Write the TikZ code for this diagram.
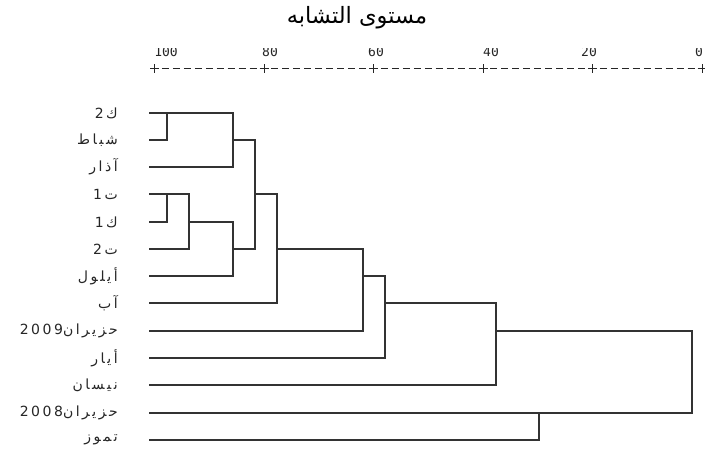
\documentclass[tikz,border=0pt]{standalone}
\usepackage{fontspec}
\setmainfont{DejaVu Sans}
\newfontfamily\arabicfont[Script=Arabic]{DejaVu Sans}
\newfontfamily\labelfont[Script=Arabic,LetterSpace=18]{DejaVu Sans}
\newfontfamily\axisfont{DejaVu Sans Mono}
\TeXXeTstate=1

\tikzset{
  tree/.style={draw=black!80, line width=1.1pt, line cap=rect},
  axisline/.style={draw=black!85, line width=1pt},
  leaflabel/.style={anchor=east, inner sep=0pt, text=black!85,
    font=\labelfont\fontsize{14}{16}\selectfont},
  ticklabel/.style={anchor=base, inner sep=0pt, text=black!85,
    font=\axisfont\fontsize{13}{15}\selectfont},
  titlelabel/.style={inner sep=0pt, font=\arabicfont\fontsize{22.5}{26}\selectfont}
}

\begin{document}
\begin{tikzpicture}[x=1pt,y=-1pt]
\useasboundingbox (0,0) rectangle (705,453);
\fill[white] (0,0) rectangle (705,453);

% title
\node[titlelabel] (title) at (357,18) {\beginR مستوى التشابه\endR};

% scale numbers (cut off at the top)
\begin{scope}
  \clip (140,48) rectangle (705,60);
  \node[ticklabel] (t100) at (166,56) {100};
  \node[ticklabel] (t80)  at (270,56) {80};
  \node[ticklabel] (t60)  at (376,56) {60};
  \node[ticklabel] (t40)  at (491,56) {40};
  \node[ticklabel] (t20)  at (589,56) {20};
  \node[ticklabel] (t0)   at (699,56) {0};
\end{scope}

% scale line: + marks with nine dashes between them
\foreach \i in {0,...,5} {
  \pgfmathsetmacro{\tx}{154.5+109.5*\i}
  \draw[axisline] (\tx-4.5,68.5) -- (\tx+4.5,68.5);
  \draw[axisline] (\tx,64) -- (\tx,73);
}
\foreach \i in {0,...,4} {
  \foreach \j in {1,...,9} {
    \pgfmathsetmacro{\dx}{154.5+109.5*\i+10.95*\j}
    \draw[axisline] (\dx-3.5,68.5) -- (\dx+3.5,68.5);
  }
}

% leaf labels and line starts
\foreach \k/\yy/\txt in {
  1/113/{ك2},
  2/140/{شباط},
  3/167/{آذار},
  4/194/{ت1},
  5/222/{ك1},
  6/249/{ت2},
  7/276/{أيلول},
  8/303/{آب},
  10/358/{أيار},
  11/385/{نيسان},
  13/440/{تموز}} {
  \node[leaflabel] (l\k) at (118,\yy) {\beginR\txt\endR};
  \coordinate (s\k) at (150,\yy);
}
\node[leaflabel] (l9) at (118,331) {\beginR حزيران\beginL 2009\endL\endR};
\coordinate (s9) at (150,331);
\node[leaflabel] (l12) at (118,413) {\beginR حزيران\beginL 2008\endL\endR};
\coordinate (s12) at (150,413);

% merge points: bottom end of each vertical, and the outgoing point
\coordinate (k1) at (167,140);  \coordinate (o1) at (167,113);
\coordinate (k2) at (233,167);  \coordinate (o2) at (233,140);
\coordinate (k3) at (167,222);  \coordinate (o3) at (167,194);
\coordinate (k4) at (189,249);  \coordinate (o4) at (189,222);
\coordinate (k5) at (233,276);  \coordinate (o5) at (233,249);
\coordinate (k6) at (255,249);  \coordinate (o6) at (255,194);
\coordinate (k7) at (277,303);  \coordinate (o7) at (277,249);
\coordinate (k8) at (363,331);  \coordinate (o8) at (363,276);
\coordinate (k9) at (385,358);  \coordinate (o9) at (385,303);
\coordinate (k10) at (496,385); \coordinate (o10) at (496,331);
\coordinate (k11) at (539,440); \coordinate (o11) at (539,413);
\coordinate (k12) at (692,413);

% dendrogram branches
\draw[tree] (s1) -| (k1) -- (s2);
\draw[tree] (o1) -| (k2) -- (s3);
\draw[tree] (s4) -| (k3) -- (s5);
\draw[tree] (o3) -| (k4) -- (s6);
\draw[tree] (o4) -| (k5) -- (s7);
\draw[tree] (o2) -| (k6) -- (o5);
\draw[tree] (o6) -| (k7) -- (s8);
\draw[tree] (o7) -| (k8) -- (s9);
\draw[tree] (o8) -| (k9) -- (s10);
\draw[tree] (o9) -| (k10) -- (s11);
\draw[tree] (o11) -| (k11) -- (s13);
\draw[tree] (o10) -| (k12) -- (s12);
\end{tikzpicture}
\end{document}
